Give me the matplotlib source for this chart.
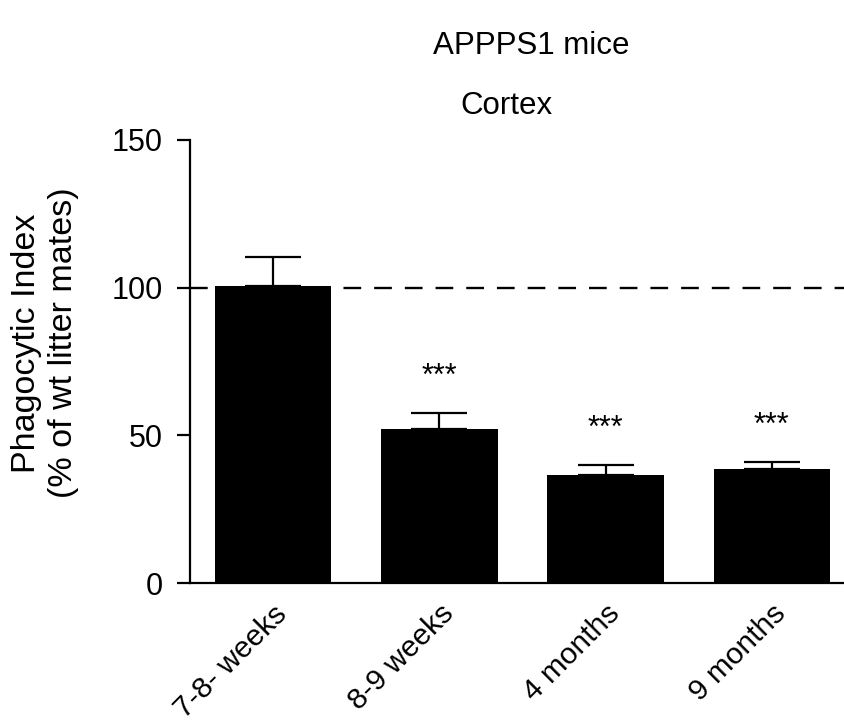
import matplotlib.pyplot as plt
import numpy as np

plt.rcParams['font.family'] = ['Liberation Sans', 'DejaVu Sans']

# Data
groups = ['7-8- weeks', '8-9 weeks', '4 months', '9 months']
means = [100.6, 52.1, 36.7, 38.6]
sem = [9.8, 5.4, 3.3, 2.3]
signif = ['', '***', '***', '***']

fig = plt.figure(figsize=(8.45, 7.22), dpi=100)
ax = fig.add_axes([0.2249, 0.1925, 0.7751, 0.6136])

x = np.arange(len(groups))
ax.bar(x, means, width=0.70, color='black', zorder=3)
ax.errorbar(x, means, yerr=[np.zeros(len(sem)), sem], fmt='none',
            ecolor='black', elinewidth=1.6, capsize=20, capthick=1.6, zorder=2)

# reference line at 100 %
ax.axhline(100, color='black', linestyle=(0, (7.5, 5.5)), linewidth=1.7, zorder=1)

for xi, m, s, lab in zip(x, means, sem, signif):
    if lab:
        ax.text(xi, m + s + 9.5, lab, ha='center', va='baseline', fontsize=22)

ax.set_xlim(-0.5, 3.44)
ax.set_ylim(0, 150)
ax.set_yticks([0, 50, 100, 150])
ax.set_xticks(x)
ax.set_xticklabels(groups, rotation=45, ha='right', rotation_mode='anchor', fontsize=21.5)
ax.tick_params(axis='x', length=0, pad=12)
ax.tick_params(axis='y', length=9.5, width=1.6, labelsize=22, pad=10)

ax.spines['top'].set_visible(False)
ax.spines['right'].set_visible(False)
ax.spines['left'].set_linewidth(1.6)
ax.spines['bottom'].set_linewidth(1.6)

ax.set_ylabel('Phagocytic Index\n(% of wt litter mates)', fontsize=24.5,
              linespacing=1.22)
ax.yaxis.label.set_va('center')
ax.yaxis.set_label_coords(-0.2214, 0.542)

fig.text(531 / 845, 1 - 54 / 722, 'APPPS1 mice', ha='center', va='baseline', fontsize=22.5)
fig.text(506 / 845, 1 - 114 / 722, 'Cortex', ha='center', va='baseline', fontsize=22.5)

fig.savefig('out.png', dpi=100)
